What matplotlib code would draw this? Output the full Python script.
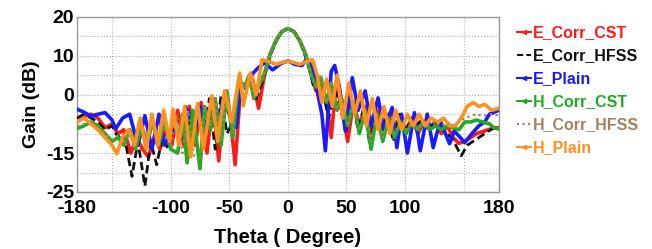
import matplotlib
matplotlib.use("Agg")
import matplotlib.pyplot as plt
from matplotlib.lines import Line2D

plt.rcParams['font.family'] = ['Liberation Sans', 'DejaVu Sans']
plt.rcParams['font.weight'] = 'bold'

labels = ["E_Corr_CST", "E_Corr_HFSS", "E_Plain", "H_Corr_CST", "H_Corr_HFSS", "H_Plain"]

e_corr_cst = [(-180,-7),(-174,-5.5),(-168,-5),(-162,-6),(-156,-8.5),(-150,-7.5),(-145,-10),(-140,-9),
    (-134,-15),(-129,-11),(-124,-14),(-119,-16),(-114,-11),(-109,-14),(-104,-9),(-99,-13),(-94,-4),
    (-89,-13),(-84,-3),(-79,-13),(-74,-2),(-69,-15),(-64,-1),(-59,-17),(-54,0),(-49,-6),(-45,-18),
    (-40,3),(-35,2),(-30,4),(-25,-3.5),(-20,5),(-15,10.5),(-10,14),(-5,16.3),(0,17),(5,16.3),(10,14),
    (15,10.5),(20,5),(24,1),(28,4),(33,-2),(37,-11),(41,2),(46,-3),(51,-12),(56,-2),(61,-8),(66,-3),
    (71,-11),(76,-4),(81,-9),(86,-5),(91,-11),(96,-6),(101,-9),(106,-6),(111,-10),(116,-7),(121,-9),
    (126,-7),(131,-10),(136,-8),(141,-11),(146,-12.5),(151,-12),(156,-11),(161,-10),(166,-9.5),
    (171,-9),(176,-8.5),(180,-8.5)]

e_corr_hfss = [(-180,-6),(-174,-5),(-168,-6),(-162,-7),(-156,-9),(-150,-8),(-145,-11),(-140,-10),
    (-133,-21),(-128,-12),(-122,-23.5),(-117,-12),(-112,-18),(-107,-11),(-102,-14),(-97,-6),(-92,-12),
    (-87,-3),(-82,-12),(-77,-2.5),(-72,-12),(-67,-1),(-62,-14),(-57,0),(-52,-10),(-47,-7),(-42,3),
    (-37,1),(-32,5),(-27,-1),(-22,3),(-18,7),(-12,12.5),(-6,16),(0,17),(6,16),(12,12.5),(18,7),(22,2),
    (27,5),(31,-1),(35,-6),(40,2),(45,-4),(50,-9),(55,-2),(60,-9),(65,-3),(70,-13),(75,-4),(80,-9),
    (85,-5),(90,-12),(95,-5),(100,-10),(105,-6),(110,-8),(115,-6),(120,-9),(125,-7),(130,-8),(135,-10),
    (140,-11),(145,-14),(148,-15.7),(153,-13),(158,-12),(163,-11),(168,-10),(173,-9),(180,-8)]

e_plain = [(-180,-3.7),(-174,-4.5),(-168,-5.5),(-162,-5),(-156,-4.6),(-150,-6.5),(-147,-8.8),(-141,-6),
    (-135,-5),(-128,-13),(-122,-5.4),(-116,-14),(-110,-5),(-105,-13),(-100,-10),(-95,-9),(-90,-11),
    (-85,-4),(-80,-10),(-75,-3),(-70,-9),(-65,-2),(-60,-7),(-55,-1),(-50,-5),(-44,-8.4),(-40,3),
    (-35,2),(-30,5.5),(-25,7),(-20,8.2),(-13,6.4),(-6,8),(0,8.7),(6,7.8),(12,7.5),(16,9.2),(21,7),
    (25,1),(29,-5),(32,-14.4),(37,6),(40,7.5),(44,2),(49,-9.3),(55,4.4),(60,-4),(66,1),(71,-8),
    (77,-0.8),(82,-9),(89,-3.3),(93,-13.6),(97,-5),(102,-15),(108,-4.6),(113,-14.4),(119,-5),
    (124,-13.6),(130,-6.7),(138,-12.6),(142,-9.3),(151,-12.3),(157,-10),(163,-8),(168,-7),(172,-5),
    (176,-4.5),(180,-4)]

h_corr_cst = [(-180,-8.7),(-174,-8),(-168,-7),(-162,-8),(-156,-10),(-150,-12),(-145,-11),(-140,-13),
    (-135,-9),(-130,-14),(-125,-8),(-120,-12),(-115,-7),(-110,-13),(-105,-6),(-100,-14),(-94,-15),
    (-90,-5),(-86,-17.5),(-81,-4),(-75,-19),(-71,-3),(-66,-9),(-62,-1),(-57,-13),(-52,1),(-47,-11),
    (-42,4),(-37,2),(-33,5),(-29,-1),(-25,2),(-20,5.5),(-15,10.5),(-10,14),(-5,16.3),(0,17),(5,16.3),
    (10,14),(15,10.5),(20,5),(24,2),(28,4.5),(33,-2),(37,3),(42,-4),(46,-1),(51,-8),(56,-2),(61,-10),
    (66,-4),(71,-14),(76,-5),(81,-12),(86,-6),(91,-11),(96,-7),(101,-10),(106,-7),(111,-9),(116,-7),
    (121,-9),(126,-8),(131,-9),(136,-8),(141,-8.5),(146,-9),(151,-7),(156,-7),(161,-6.5),(166,-7),
    (172,-7.5),(176,-8.5),(180,-8.8)]

h_corr_hfss = [(-180,-8),(-174,-7.5),(-168,-7),(-162,-8.5),(-156,-10),(-150,-11.5),(-145,-10.5),
    (-140,-12.5),(-135,-9),(-130,-13),(-125,-8),(-120,-11),(-115,-7),(-110,-12),(-105,-6),(-100,-13),
    (-95,-5),(-90,-15),(-85,-4),(-80,-16),(-75,-17),(-71,-3),(-66,-8),(-62,-1),(-57,-12),(-52,1),
    (-47,-10),(-42,4),(-37,2),(-33,5),(-29,-1),(-25,2),(-20,5.5),(-15,10.5),(-10,14),(-5,16.3),(0,17),
    (5,16.3),(10,14),(15,10.5),(20,5),(24,2),(28,4.5),(33,-2),(37,3),(42,-4),(46,-1),(51,-8),(56,-2),
    (61,-9),(66,-4),(71,-12),(76,-5),(81,-11),(86,-6),(91,-10),(96,-7),(101,-9),(106,-7),(111,-9),
    (116,-7),(121,-8),(126,-7),(131,-8),(136,-7),(141,-8),(146,-7),(151,-6),(156,-5.5),(161,-5),
    (166,-5.5),(172,-5),(176,-5),(180,-5.5)]

h_plain = [(-180,-7),(-174,-6),(-168,-7.5),(-162,-9),(-156,-11),(-150,-13),(-146,-15.2),(-141,-11),
    (-136,-9),(-131,-13),(-126,-6),(-121,-14),(-116,-5),(-111,-13),(-106,-4),(-101,-12),(-98,-3.7),
    (-93,-13),(-88,-3),(-83,-16),(-77,-2.3),(-72,-14),(-65,-0.3),(-60,-12),(-54,1),(-48,-7),(-41,5.6),
    (-38,-2.8),(-32,5.6),(-27,0),(-22,9),(-16,8.5),(-10,7.8),(-5,8.3),(0,8.6),(5,8.3),(10,7.8),(16,8.5),
    (21,9),(25,5),(29,-2),(33,4),(38,-3),(42,5),(47,-6),(52,3),(57,-5),(62,1),(67,-8),(72,-1),(77,-9),
    (82,-3),(87,-10),(92,-4),(97,-9),(102,-5),(107,-8),(112,-5),(117,-8),(122,-6),(128,-7),(133,-6),
    (138,-8),(143,-8),(148,-6),(153,-3),(158,-2),(163,-3),(168,-2.5),(174,-4),(180,-3.5)]

x_ticks = [-180, -150, -100, -50, 0, 50, 100, 150, 180]
x_ticklabels = ["-180", "", "-100", "-50", "0", "50", "100", "", "180"]
y_ticks = [-25, -20, -15, -10, -5, 0, 5, 10, 15, 20]
y_ticklabels = ["-25", "", "-15", "", "", "0", "", "10", "", "20"]

series = [e_corr_cst, e_corr_hfss, e_plain, h_corr_cst, h_corr_hfss, h_plain]
colors = ["#ff1a1a", "#111111", "#1a1aff", "#22aa22", "#a88060", "#ff9020"]
styles = ["-", (0, (3, 1.5)), "-", "-", ":", "-"]
widths = [2.6, 2.0, 2.6, 2.6, 1.6, 2.6]
order = [0, 2, 3, 1, 4, 5]

fig = plt.figure(figsize=(6.52, 2.49), dpi=100)
ax = fig.add_axes([0.118, 0.229, 0.647, 0.703])

for i in order:
    th = [p[0] for p in series[i]]
    g = [p[1] for p in series[i]]
    ax.plot(th, g, color=colors[i], linestyle=styles[i], linewidth=widths[i], zorder=2 + i)

ax.set_xlim(-180, 180)
ax.set_ylim(-25, 20)
ax.set_xticks(x_ticks)
ax.set_xticklabels(x_ticklabels)
ax.set_yticks(y_ticks)
ax.set_yticklabels(y_ticklabels)
ax.tick_params(axis='x', length=0, labelsize=14, pad=6)
ax.tick_params(axis='y', length=0, labelsize=14, pad=2)
for lab in ax.get_xticklabels() + ax.get_yticklabels():
    lab.set_fontweight('bold')
ax.grid(True, color="#b0b0b0", linestyle=":", linewidth=0.8)
for s in ax.spines.values():
    s.set_color("#999999")
    s.set_linewidth(1.0)
ax.set_xlabel("Theta ( Degree)", fontsize=14.5, fontweight='bold', labelpad=8)
ax.set_ylabel("Gain (dB)", fontsize=14, fontweight='bold', labelpad=4)

handles = [Line2D([0], [0], color=colors[i], linestyle=styles[i], linewidth=1.5,
                  marker='<' if i not in (1, 4) else None, markersize=3)
           for i in range(6)]
leg = fig.legend(handles, labels, loc='upper left', bbox_to_anchor=(0.78, 0.93),
                 frameon=False, handlelength=0.9, handletextpad=0.15,
                 labelspacing=0.5, borderpad=0, labelcolor=colors,
                 prop={'weight': 'bold', 'size': 11.5})

fig.savefig("out.png", dpi=100)
